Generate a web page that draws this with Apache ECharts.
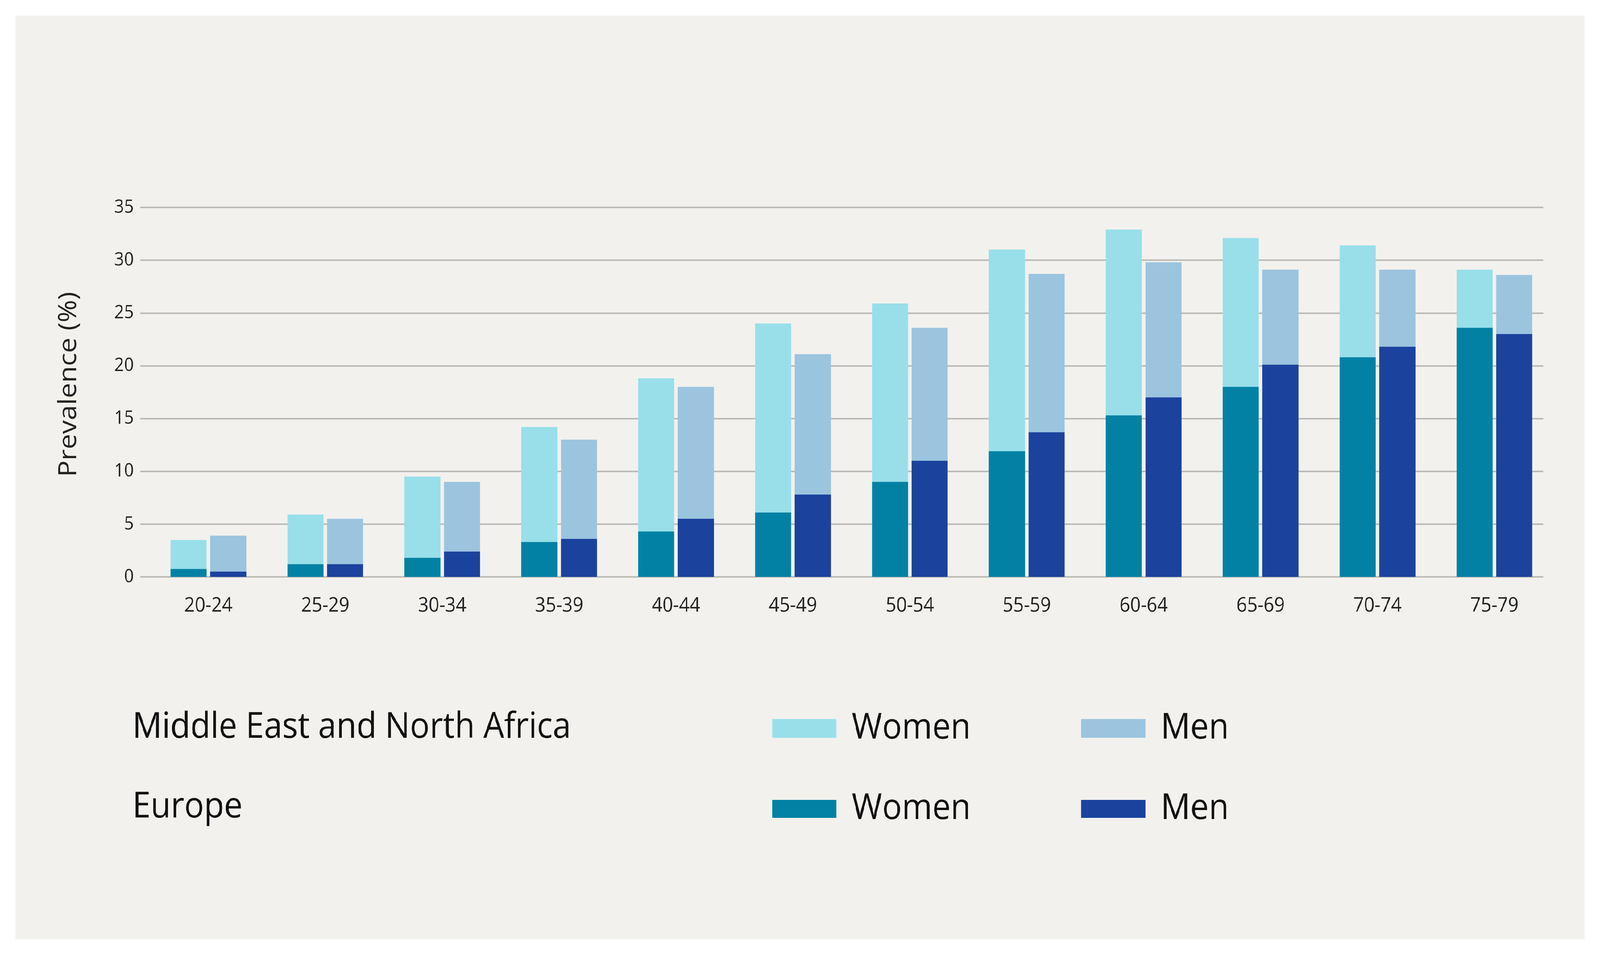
<!DOCTYPE html>
<html>
<head>
<meta charset="utf-8">
<title>Prevalence by age</title>
<script src="https://cdn.jsdelivr.net/npm/echarts@6/dist/echarts.min.js"></script>
<style>
	html,body{margin:0;padding:0;background:#fff;overflow:hidden;width:100%;height:100%;}
	.wraper{position:absolute;left:0;top:0;width:4482px;height:2440px;transform-origin:0 0;}
	.panel{position:absolute;left:43px;top:40px;width:4396px;height:2364px;background:#f2f1ed;}
	#chart{position:absolute;left:0;top:0;width:4482px;height:2440px;}
</style>
</head>
<body>
<div class="wraper">
	<div class="panel"></div>
	<div id="chart"></div>
</div>
<script>
	/*data*/
	var ageGroups=['20-24','25-29','30-34','35-39','40-44','45-49','50-54','55-59','60-64','65-69','70-74','75-79'];
	var menaWomen=[3.5, 5.9, 9.5, 14.2, 18.8, 24.0, 25.9, 31.0, 32.9, 32.1, 31.4, 29.1];
	var menaMen=[3.9, 5.5, 9.0, 13.0, 18.0, 21.1, 23.6, 28.7, 29.8, 29.1, 29.1, 28.6];
	var europeWomen=[0.75, 1.2, 1.8, 3.3, 4.3, 6.1, 9.0, 11.9, 15.3, 18.0, 20.8, 23.6];
	var europeMen=[0.5, 1.2, 2.4, 3.6, 5.5, 7.8, 11.0, 13.7, 17.0, 20.1, 21.8, 23.0];
	var yTicks={min:0,max:35,interval:5};
	/*data end*/

	var font='Open Sans';
	var plotTop=531, plotHeight=946;

	var myChart=echarts.init(document.getElementById('chart'));
	var option={
		backgroundColor:'transparent',
		textStyle:{fontFamily:font},
		title:[
			{
				text:'Middle East and North Africa',
				left:371,
				top:1817,
				padding:0,
				textStyle:{fontFamily:font,fontSize:92,fontWeight:'normal',color:'#111'}
			},
			{
				text:'Europe',
				left:371,
				top:2021,
				padding:0,
				textStyle:{fontFamily:font,fontSize:92,fontWeight:'normal',color:'#111'}
			}
		],
		legend:[
			{
				data:['MENA Women','MENA Men'],
				left:2163,
				top:1819,
				padding:0,
				itemWidth:180,
				itemHeight:48,
				itemGap:309,
				icon:'rect',
				selectedMode:false,
				formatter:function(name){return name.split(' ').pop();},
				textStyle:{fontFamily:font,fontSize:92,color:'#111',padding:[0,0,0,38]}
			},
			{
				data:['Europe Women','Europe Men'],
				left:2163,
				top:2025,
				padding:0,
				itemWidth:180,
				itemHeight:46,
				itemGap:309,
				icon:'rect',
				selectedMode:false,
				formatter:function(name){return name.split(' ').pop();},
				textStyle:{fontFamily:font,fontSize:92,color:'#111',padding:[0,0,0,38]}
			}
		],
		// grid 0 holds the bars, grid 1 the gridlines and y labels (slightly shifted left)
		grid:[
			{left:420,top:plotTop,width:3930,height:plotHeight},
			{left:393,top:plotTop,width:3930,height:plotHeight}
		],
		xAxis:[
			{
				type:'category',
				gridIndex:0,
				data:ageGroups,
				axisLine:{show:false},
				axisTick:{show:false},
				axisLabel:{fontFamily:font,fontSize:52,color:'#222',margin:48}
			},
			{
				type:'category',
				gridIndex:0,
				data:ageGroups,
				show:false
			},
			{
				type:'category',
				gridIndex:1,
				data:ageGroups,
				show:false
			}
		],
		yAxis:[
			{
				type:'value',
				gridIndex:0,
				min:yTicks.min,
				max:yTicks.max,
				interval:yTicks.interval,
				show:false
			},
			{
				type:'value',
				gridIndex:1,
				min:yTicks.min,
				max:yTicks.max,
				interval:yTicks.interval,
				name:'Prevalence (%)',
				nameLocation:'middle',
				nameGap:165,
				nameTextStyle:{fontFamily:font,fontSize:70,color:'#222',padding:[0,0,0,40]},
				axisLine:{show:false},
				axisTick:{show:false},
				axisLabel:{fontFamily:font,fontSize:48,color:'#222',margin:18},
				splitLine:{lineStyle:{color:'#bdbbb6',width:4,type:'solid'}}
			}
		],
		series:[
			{
				name:'MENA Women',
				type:'bar',
				xAxisIndex:0,
				yAxisIndex:0,
				barWidth:101,
				barGap:'10%',
				itemStyle:{color:'#98dfea'},
				data:menaWomen
			},
			{
				name:'MENA Men',
				type:'bar',
				xAxisIndex:0,
				yAxisIndex:0,
				barWidth:101,
				barGap:'10%',
				itemStyle:{color:'#9bc4df'},
				data:menaMen
			},
			{
				name:'Europe Women',
				type:'bar',
				xAxisIndex:1,
				yAxisIndex:0,
				barWidth:101,
				barGap:'10%',
				itemStyle:{color:'#0381a4'},
				data:europeWomen
			},
			{
				name:'Europe Men',
				type:'bar',
				xAxisIndex:1,
				yAxisIndex:0,
				barWidth:101,
				barGap:'10%',
				itemStyle:{color:'#1b429d'},
				data:europeMen
			}
		]
	};
	myChart.setOption(option);

	// the window may be narrower than the 4482 design, so fit the whole drawing into it
	var layOut=function(){
		var x=window.innerWidth/4482;
		var y=window.innerHeight/2440;
		document.querySelector('.wraper').style.transform='scale('+x+','+y+')';
	};
	layOut();
	window.addEventListener('resize',layOut);
</script>
</body>
</html>
